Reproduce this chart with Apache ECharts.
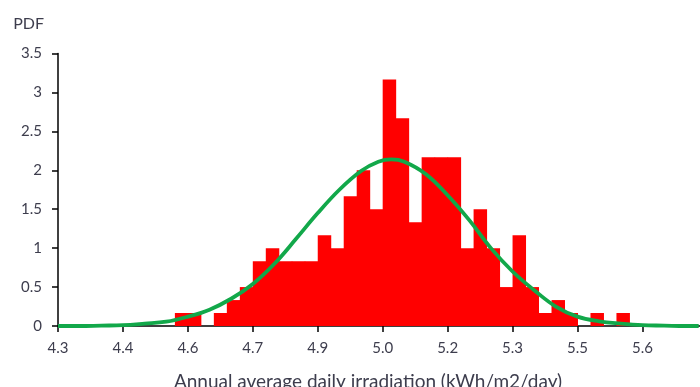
<!DOCTYPE html>
<html>
<head>
<meta charset="utf-8">
<script src="https://cdn.jsdelivr.net/npm/echarts@6/dist/echarts.min.js"></script>
<style>
  html, body { margin: 0; padding: 0; background: #fff; }
  #chart { width: 700px; height: 387px; }
</style>
</head>
<body>
<div id="chart"></div>
<script>
// Histogram bins (left edge, kWh/m2/day) and their probability density
const binWidth = 0.03;
const binLeft = [4.57, 4.60, 4.63, 4.66, 4.69, 4.72, 4.75, 4.78, 4.81, 4.84, 4.87, 4.90,
                 4.93, 4.96, 4.99, 5.02, 5.05, 5.08, 5.11, 5.14, 5.17, 5.20, 5.23, 5.26,
                 5.29, 5.32, 5.35, 5.38, 5.41, 5.44, 5.47, 5.50, 5.53, 5.56, 5.59];
const density = [0.167, 0.167, 0, 0.167, 0.333, 0.5, 0.833, 1.0, 0.833, 0.833, 0.833, 1.167,
                 1.0, 1.667, 2.0, 1.5, 3.167, 2.667, 1.333, 2.167, 2.167, 2.167, 1.0, 1.5,
                 1.0, 0.5, 1.167, 0.5, 0.167, 0.333, 0.167, 0, 0.167, 0, 0.167];

// Fitted normal density curve
const curveX = [4.30, 4.35, 4.40, 4.45, 4.50, 4.55, 4.60, 4.65, 4.70, 4.75, 4.80, 4.85, 4.90,
                4.95, 5.00, 5.04, 5.07, 5.10, 5.15, 5.20, 5.25, 5.30, 5.35, 5.40, 5.45, 5.50,
                5.55, 5.60, 5.65, 5.70, 5.75, 5.78];
const curveY = [0.0, 0.0, 0.005, 0.01, 0.03, 0.055, 0.12, 0.21, 0.35, 0.54, 0.80, 1.12, 1.45,
                1.75, 1.99, 2.11, 2.14, 2.11, 1.95, 1.68, 1.36, 1.00, 0.70, 0.46, 0.25, 0.12,
                0.06, 0.03, 0.01, 0.005, 0.0, 0.0];

// X-axis tick positions and their printed labels
const xTickValues = [4.3, 4.45, 4.6, 4.75, 4.9, 5.05, 5.2, 5.35, 5.5, 5.65];
const xTickLabels = ['4.3', '4.4', '4.6', '4.7', '4.9', '5.0', '5.2', '5.3', '5.5', '5.6'];

const FONT = 'Lato';
const TEXT = '#3d3d4d';

const chart = echarts.init(document.getElementById('chart'), null, { renderer: 'canvas' });

chart.setOption({
  animation: false,
  backgroundColor: '#ffffff',
  title: {
    text: 'Annual average daily irradiation (kWh/m2/day)',
    left: 363,
    top: 367,
    textAlign: 'center',
    textStyle: { fontFamily: FONT, fontSize: 19, fontWeight: 'normal', color: TEXT }
  },
  grid: { left: 58, right: 0, top: 53.5, bottom: 61, containLabel: false },
  xAxis: {
    type: 'value',
    min: 4.3,
    max: 5.783,
    axisLine: { show: true, onZero: false, lineStyle: { color: '#000', width: 1.5 } },
    axisTick: { show: true, customValues: xTickValues, length: 6, lineStyle: { color: '#000', width: 1.5 } },
    axisLabel: {
      customValues: xTickValues,
      margin: 15,
      fontFamily: FONT,
      fontSize: 15,
      color: TEXT,
      formatter: function (v) {
        let best = 0;
        for (let i = 1; i < xTickValues.length; i++) {
          if (Math.abs(xTickValues[i] - v) < Math.abs(xTickValues[best] - v)) best = i;
        }
        return xTickLabels[best];
      }
    },
    splitLine: { show: false }
  },
  yAxis: {
    type: 'value',
    name: 'PDF',
    nameLocation: 'end',
    nameGap: 22,
    nameTextStyle: { fontFamily: FONT, fontSize: 16, color: TEXT, align: 'right', padding: [0, 14, 0, 0] },
    min: 0,
    max: 3.5,
    interval: 0.5,
    axisLine: { show: true, lineStyle: { color: '#000', width: 1.5 } },
    axisTick: { show: true, length: 6, lineStyle: { color: '#000', width: 1.5 } },
    axisLabel: { margin: 16, fontFamily: FONT, fontSize: 15, color: TEXT },
    splitLine: { show: false }
  },
  series: [
    {
      type: 'custom',
      name: 'Histogram',
      data: binLeft.map((x, i) => [x, x + binWidth, density[i]]),
      renderItem: function (params, api) {
        const h = api.value(2);
        if (!h) return null;
        const p0 = api.coord([api.value(0), 0]);
        const p1 = api.coord([api.value(1), h]);
        return {
          type: 'rect',
          shape: { x: p0[0], y: p1[1], width: p1[0] - p0[0] + 0.5, height: p0[1] - p1[1] },
          style: { fill: '#ff0000' }
        };
      },
      encode: { x: [0, 1], y: 2 },
      z: 2
    },
    {
      type: 'line',
      name: 'Normal fit',
      data: curveX.map((x, i) => [x, curveY[i]]),
      smooth: 0.4,
      symbol: 'none',
      lineStyle: { color: '#12a84a', width: 3.8 },
      z: 3
    }
  ]
});
</script>
</body>
</html>
